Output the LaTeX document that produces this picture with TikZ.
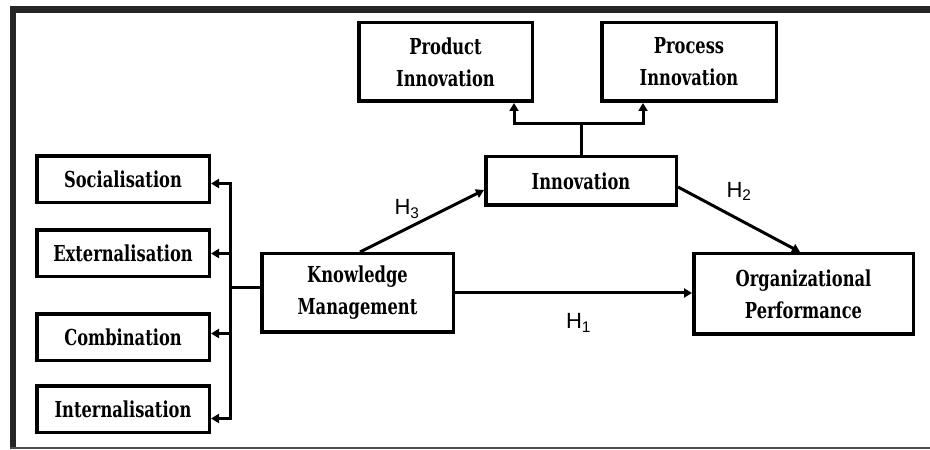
\documentclass[tikz,border=0pt]{standalone}
\usepackage{fontspec}
\setmainfont{DejaVu Serif}[FakeStretch=0.74]
\newfontfamily\labelfont{Liberation Sans}
\usetikzlibrary{arrows.meta,positioning}

\begin{document}
\begin{tikzpicture}[x=1pt, y=1pt,
		box/.style={draw, line width=3.5pt, align=center, inner sep=2pt, font=\fontsize{22}{32}\selectfont\bfseries},
		leftbox/.style={box, minimum width=172.5pt, minimum height=46.5pt},
		link/.style={line width=3pt},
		hyp/.style={font=\fontsize{22}{24}\selectfont\labelfont, inner sep=1pt},
		>={Triangle[length=8pt,width=9pt]}]
		\useasboundingbox (0,0) rectangle (930,450);
		% frame
		\draw[line width=7pt, black!85] (10,440.5) -- (930,440.5);
		\draw[line width=6pt, black!85] (13,444) -- (13,1);
		\draw[line width=2pt, black!70] (10,2) -- (930,2);
		% left column
		\node[leftbox] (soc) at (123,270.5) {Socialisation};
		\node[leftbox] (ext) [below=24pt of soc] {Externalisation};
		\node[leftbox] (comb) [below=34pt of ext] {Combination};
		\node[leftbox] (int) [below=22pt of comb] {Internalisation};
		% main concepts
		\node[box, minimum width=191.5pt, minimum height=78.5pt] (km) at (357.5,157) {Knowledge\\Management};
		\node[box, minimum width=190.5pt, minimum height=48.5pt] (inn) at (581,269) {Innovation};
		\node[box, minimum width=219.5pt, minimum height=80.5pt] (org) at (803.5,156) {Organizational\\Performance};
		\node[box, minimum width=173.5pt, minimum height=78.5pt] (prod) at (445.5,388) {Product\\Innovation};
		\node[box, minimum width=174.5pt, minimum height=78.5pt] (proc) [right=66pt of prod] {Process\\Innovation};
		% knowledge management dimensions
		\draw[link] ([yshift=5pt]km.west) -- ++(-30pt,0) coordinate (bus);
		\draw[link,->] (bus) |- ([yshift=-4pt]soc.east);
		\draw[link,->] (bus) |- (ext.east);
		\draw[link,->] (bus) |- ([yshift=4pt]comb.east);
		\draw[link,->] (bus) |- ([yshift=-9pt]int.east);
		% innovation types
		\draw[link] (inn.north) -- ++(0,31pt) coordinate (split);
		\draw[link,->] (split) -| ([xshift=68.5pt]prod.south);
		\draw[link,->] (split) -| ([xshift=-46pt]proc.south);
		% hypotheses
		\draw[link,->] ([xshift=2.5pt]km.north) -- ([yshift=-9pt]inn.west) node[midway, above left, hyp] {H\textsubscript{3}};
		\draw[link,->] ([yshift=-6pt]inn.east) -- ([xshift=-3.5pt]org.north) node[midway, hyp, above=16pt] {H\textsubscript{2}};
		\draw[link,->] (km.east) -- (km.east -| org.west) node[midway, hyp, below=18pt, xshift=5pt] {H\textsubscript{1}};
	\end{tikzpicture}
\end{document}
